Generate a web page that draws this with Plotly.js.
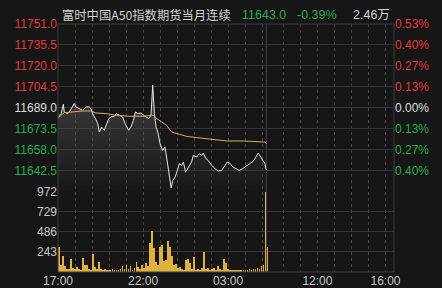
<!DOCTYPE html>
<html>
<head>
<meta charset="utf-8">
<script src="https://cdn.plot.ly/plotly-3.0.1.min.js"></script>
<style>html,body{margin:0;padding:0;background:#161616;}#chart{width:442px;height:288px;}</style>
</head>
<body>
<div id="chart"></div>
<script>
// ---- data ----
const titleText = "富时中国A50指数期货当月连续";
const lastPrice = "11643.0";
const changePct = "-0.39%";
const totalVolume = "2.46万";
const prevClose = 11689.0;

// sessions in minutes from 17:00 (night 17:00-05:15, day 09:00-16:30)
const nightSessionMinutes = 735;
const daySessionMinutes = 450;

const xTickMinutes = [0, 300, 600, 915, 1155];
const xTickLabels = ["17:00", "22:00", "03:00", "12:00", "16:00"];

const priceTicks = [11751.0, 11735.5, 11720.0, 11704.5, 11689.0, 11673.5, 11658.0, 11642.5];
const priceTickLabels = ["11751.0", "11735.5", "11720.0", "11704.5", "11689.0", "11673.5", "11658.0", "11642.5"];
const pctTickLabels = ["0.53%", "0.40%", "0.27%", "0.13%", "0.00%", "0.13%", "0.27%", "0.40%"];
const priceMin = 11627.0, priceMax = 11751.0;

const volTicks = [243, 486, 729, 972];
const volMax = 972;

const priceMinutes = [0,5,11,19,22,34,40,46,57,63,75,87,99,110,116,122,132,140,146,154,163,169,179,187,199,205,216,228,234,242,249,257,266,273,281,293,301,310,320,328,334,337,340,343,346,352,360,369,377,383,389,395,399,405,413,421,428,436,442,450,460,471,477,489,498,507,512,522,530,542,554,565,577,589,597,607,618,628,639,651,666,677,689,698,706,715,724,730,733,735];
const prices = [11681.0,11683.4,11684.7,11691.6,11685.9,11684.7,11685.9,11688.4,11692.1,11689.6,11688.4,11687.1,11689.6,11689.6,11688.4,11684.7,11681.0,11677.3,11671.0,11674.7,11672.3,11676.0,11681.0,11682.2,11682.7,11684.7,11683.4,11682.2,11678.5,11674.7,11672.3,11674.7,11679.7,11685.9,11684.7,11685.1,11683.4,11682.2,11681.0,11683.4,11705.7,11690.0,11684.7,11679.7,11674.7,11671.0,11662.4,11657.4,11659.9,11652.5,11642.6,11635.2,11629.7,11635.2,11637.6,11642.6,11647.6,11646.3,11648.8,11641.3,11645.0,11648.8,11653.7,11652.5,11655.0,11653.7,11655.4,11651.3,11650.0,11646.3,11643.9,11642.1,11642.6,11646.3,11648.8,11647.6,11645.0,11643.9,11642.6,11643.9,11646.3,11647.6,11649.5,11652.5,11655.4,11652.5,11650.0,11647.6,11644.0,11643.0];

const avgMinutes = [0,4,22,52,87,116,134,169,205,251,299,328,336,348,366,383,401,419,454,489,536,595,654,712,730,735];
const avgPrices = [11681.5,11682.2,11685.4,11685.9,11686.6,11686.6,11685.1,11684.7,11683.4,11682.7,11682.7,11683.4,11683.4,11681.0,11678.5,11676.0,11671.0,11669.8,11667.8,11666.9,11665.6,11664.4,11664.4,11664.1,11663.6,11662.4];

// volume per 7-minute bin from 17:00
const volBin = 7;
const volumes = [300,90,190,70,40,35,155,50,35,60,40,30,170,80,80,40,30,215,60,35,120,40,30,35,25,30,20,35,25,30,20,40,70,35,85,40,70,30,50,120,60,40,85,50,110,70,350,500,290,120,80,300,330,130,140,370,300,190,90,100,50,60,40,30,140,155,110,40,180,30,40,30,45,240,40,50,30,35,45,30,70,40,30,155,105,40,25,30,20,25,30,20,25,20,30,25,35,30,40,35,50,40,70,80,972,300];

// ---- colours / layout helpers ----
const RED = "#e23a3d", GREEN = "#23ad52", NEUTRAL = "#dcdcdc", AXT = "#c9c9c9";
const GRID = "#333333", DOT = "#444444", BG = "#161616";
const W = 442, H = 288;
const px = v => v / W, py = v => 1 - v / H;
const plotL = px(58), plotR = px(394);
const priceDom = [py(191.5), py(24)];
const volDom = [py(272), py(191.5)];

const totalMinutes = nightSessionMinutes + daySessionMinutes;
const gridMinutes = [];
for (let m = 0; m <= nightSessionMinutes; m += 60) gridMinutes.push(m);
for (let m = nightSessionMinutes + 60; m < totalMinutes; m += 60) gridMinutes.push(m);
const gridText = gridMinutes.map(m => { const k = xTickMinutes.indexOf(m); return k >= 0 ? xTickLabels[k] : ""; });

const colorFor = v => v > prevClose ? RED : (v < prevClose ? GREEN : NEUTRAL);
const leftText = priceTicks.map((v, i) => `<span style="color:${colorFor(v)}">${priceTickLabels[i]}</span>`);
const rightText = priceTicks.map((v, i) => `<span style="color:${colorFor(v)}">${pctTickLabels[i]}</span>`);

const volX = volumes.map((_, i) => i * volBin + volBin / 2);

const traces = [
  {
    x: priceMinutes, y: prices, type: "scatter", mode: "lines",
    line: {color: "#e6e6e6", width: 1}, xaxis: "x", yaxis: "y",
    fill: "tozeroy",
    fillgradient: {type: "vertical", start: priceMin, stop: 11700,
      colorscale: [[0, "rgba(70,70,70,0.05)"], [1, "rgba(95,95,95,0.55)"]]},
    hoverinfo: "skip"
  },
  {
    x: avgMinutes, y: avgPrices, type: "scatter", mode: "lines",
    line: {color: "#d8ae62", width: 1}, xaxis: "x", yaxis: "y", hoverinfo: "skip"
  },
  {
    x: [0], y: [prevClose], type: "scatter", mode: "none", xaxis: "x", yaxis: "y2", hoverinfo: "skip", showlegend: false
  },
  {
    x: volX, y: volumes, type: "bar", width: volBin * 0.9,
    marker: {color: "#e0b040", line: {width: 0}}, xaxis: "x2", yaxis: "y3", hoverinfo: "skip"
  }
];

const tickFont = {family: "Liberation Sans, Arial, sans-serif", size: 12, color: AXT};

const layout = {
  width: W, height: H,
  margin: {l: 0, r: 0, t: 0, b: 0},
  paper_bgcolor: BG, plot_bgcolor: BG,
  showlegend: false,
  xaxis: {
    domain: [plotL, plotR], range: [0, totalMinutes], anchor: "y",
    tickmode: "array", tickvals: gridMinutes, showticklabels: false, ticks: "",
    showgrid: true, gridcolor: DOT, griddash: "dot", gridwidth: 1,
    zeroline: false, showline: false, fixedrange: true
  },
  xaxis2: {
    domain: [plotL, plotR], range: [0, totalMinutes], anchor: "y3",
    tickmode: "array", tickvals: gridMinutes, ticktext: gridText, ticks: "",
    showgrid: true, gridcolor: DOT, griddash: "dot", gridwidth: 1,
    zeroline: false, showline: false, tickfont: tickFont, fixedrange: true
  },
  yaxis: {
    domain: priceDom, range: [priceMin, priceMax], anchor: "x",
    tickmode: "array", tickvals: priceTicks, ticktext: leftText, ticks: "",
    showgrid: true, gridcolor: GRID, gridwidth: 1, zeroline: false, showline: false,
    tickfont: {family: "Liberation Sans, Arial, sans-serif", size: 12}, fixedrange: true
  },
  yaxis2: {
    domain: priceDom, range: [priceMin, priceMax], anchor: "x", overlaying: "y", side: "right",
    tickmode: "array", tickvals: priceTicks, ticktext: rightText, ticks: "",
    showgrid: false, zeroline: false, showline: false,
    tickfont: {family: "Liberation Sans, Arial, sans-serif", size: 12}, fixedrange: true
  },
  yaxis3: {
    domain: volDom, range: [0, volMax], anchor: "x2",
    tickmode: "array", tickvals: volTicks, ticks: "",
    showgrid: true, gridcolor: GRID, gridwidth: 1, zeroline: false, showline: false,
    tickfont: tickFont, fixedrange: true
  },
  shapes: [
    {type: "rect", xref: "paper", yref: "paper", x0: plotL, x1: plotR, y0: volDom[0], y1: priceDom[1],
      line: {color: "#3a3a3a", width: 1}, fillcolor: "rgba(0,0,0,0)", layer: "above"},
    {type: "line", xref: "x", yref: "paper", x0: nightSessionMinutes, x1: nightSessionMinutes,
      y0: volDom[0], y1: priceDom[1], line: {color: "#3e3e3e", width: 1}, layer: "below"}
  ],
  annotations: [
    {text: titleText, xref: "paper", yref: "paper", x: px(60), y: py(15), xanchor: "left", yanchor: "middle", showarrow: false,
      font: {family: "Noto Sans CJK SC, sans-serif", size: 12.3, color: "#d4d4d4"}},
    {text: lastPrice, xref: "paper", yref: "paper", x: px(240), y: py(15), xanchor: "left", yanchor: "middle", showarrow: false,
      font: {family: "Liberation Sans, Arial, sans-serif", size: 12.5, color: GREEN}},
    {text: changePct, xref: "paper", yref: "paper", x: px(295), y: py(15), xanchor: "left", yanchor: "middle", showarrow: false,
      font: {family: "Liberation Sans, Arial, sans-serif", size: 12.5, color: GREEN}},
    {text: totalVolume, xref: "paper", yref: "paper", x: px(392), y: py(15), xanchor: "right", yanchor: "middle", showarrow: false,
      font: {family: "Liberation Sans, Noto Sans CJK SC, sans-serif", size: 12.5, color: "#d4d4d4"}}
  ],
  bargap: 0
};

Plotly.newPlot("chart", traces, layout, {staticPlot: true, displayModeBar: false});
</script>
</body>
</html>
